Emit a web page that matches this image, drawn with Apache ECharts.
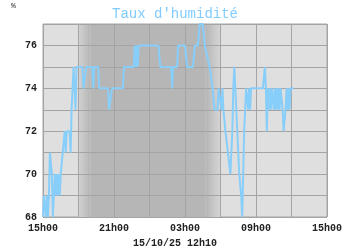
<!DOCTYPE html>
<html><head><meta charset="utf-8">
<script src="https://cdn.jsdelivr.net/npm/echarts@6/dist/echarts.min.js"></script>
<style>html,body{margin:0;padding:0;background:#fff}#c{width:350px;height:250px}</style>
</head><body><div id="c"></div>
<script>
const titleText = "Taux d'humidité";
const unitText = "%";
const footerText = "15/10/25 12h10";
const xTickLabels = ['15h00', '21h00', '03h00', '09h00', '15h00'];
const yTickLabels = ['68', '70', '72', '74', '76'];
const times = [
'15:00','15:05','15:10','15:15','15:20','15:25','15:30','15:35','15:40','15:45','15:50','15:55',
'16:00','16:05','16:10','16:15','16:20','16:25','16:30','16:35','16:40','16:45','16:50','16:55',
'17:00','17:05','17:10','17:15','17:20','17:25','17:30','17:35','17:40','17:45','17:50','17:55',
'18:20','18:25','18:35','18:40','19:10','19:15','19:20','19:40','19:45','20:30','20:35','20:45','20:50',
'21:45','21:50','22:40','22:45','22:50','22:55','23:00','23:05','00:45','00:55','01:50','01:55','02:00',
'02:20','02:25','03:00','03:10','03:40','03:50','04:05','04:15','04:30','04:40','04:50','05:05',
'05:20','05:30','05:40','05:45','05:50','05:55','06:05','06:10','06:15','06:25','06:50','07:00',
'07:05','07:10','07:15','07:20','07:30','07:35','07:40','07:45','07:50','07:55','08:00','08:05',
'08:10','08:20','08:25','08:30','08:35','08:40','09:35','09:40','09:45','09:50','09:55','10:00',
'10:05','10:10','10:15','10:20','10:25','10:30','10:35','10:40','10:45','10:50','10:55','11:00',
'11:05','11:10','11:15','11:20','11:25','11:30','11:35','11:40','11:45','11:50','11:55','12:00','12:10'
];
const humidity = [
68,69,69,68,69,68,69,71,71,70,68,68,
70,69,70,69,70,69,70,70,71,71,72,71,
72,72,72,72,71,73,73,75,75,73,75,75,
75,74,74,75,75,74,75,75,74,74,73,73,74,
74,75,75,76,75,76,75,76,76,75,75,74,75,
75,76,76,75,75,76,76,77,77,76,76,75,
74,73,73,73,74,74,73,74,73,72,70,72,
74,75,74,73,71,70,70,69,68,70,72,73,
74,73,74,73,74,74,74,74,75,74,72,74,
73,74,73,74,74,73,74,73,74,73,74,73,
74,74,73,72,72,73,74,73,74,73,74,74,74
];
const nightFadeIn = ['18:00', '19:00'];
const nightFadeOut = ['04:45', '06:00'];

function toMinutes(t) {
  const p = t.split(':').map(Number);
  return ((p[0] * 60 + p[1]) - 900 + 1440) % 1440;
}
const seriesData = times.map((t, i) => [toMinutes(t), humidity[i]]);

const light = '#dfdfdf', dark = '#b6b6b6';
const font = '"Liberation Mono", "Courier New", monospace';

const chart = echarts.init(document.getElementById('c'), null, {renderer: 'canvas'});
chart.setOption({
  animation: false,
  backgroundColor: '#ffffff',
  title: {
    text: titleText, left: 'center', top: 2,
    textStyle: {fontFamily: font, fontSize: 14, fontWeight: 'normal', color: '#80ccff'}
  },
  graphic: [
    {type: 'text', left: 11, top: 2, style: {text: unitText, font: '8px ' + font, fill: '#333'}},
    {type: 'text', left: 'center', top: 238, style: {text: footerText, font: 'bold 10px ' + font, fill: '#222'}}
  ],
  grid: {
    left: 43, right: 23, top: 24, bottom: 33, show: true,
    backgroundColor: light, borderColor: '#a4a4a4', borderWidth: 1
  },
  xAxis: {
    type: 'value', min: 0, max: 1440, interval: 180, z: 2,
    axisLine: {show: false}, axisTick: {show: false},
    splitLine: {show: true, lineStyle: {color: '#a4a4a4', width: 1}},
    axisLabel: {
      margin: 6, fontFamily: font, fontSize: 10, fontWeight: 'bold', color: '#222',
      showMinLabel: true, showMaxLabel: true,
      formatter: v => (v % 360 === 0 ? xTickLabels[v / 360] : '')
    }
  },
  yAxis: {
    type: 'value', min: 68, max: 77, interval: 1, z: 2,
    axisLine: {show: false}, axisTick: {show: false},
    splitLine: {show: true, lineStyle: {color: '#a4a4a4', width: 1}},
    axisLabel: {
      margin: 6, fontFamily: font, fontSize: 10, fontWeight: 'bold', color: '#222',
      formatter: v => (v % 2 === 0 ? yTickLabels[(v - 68) / 2] : '')
    }
  },
  series: [
    {
      type: 'line', data: seriesData, z: 1, silent: true, showSymbol: false,
      lineStyle: {opacity: 0, width: 0},
      markArea: {
        silent: true,
        data: [
          [{xAxis: toMinutes(nightFadeIn[0]), itemStyle: {color: {type: 'linear', x: 0, y: 0, x2: 1, y2: 0,
              colorStops: [{offset: 0, color: '#d2d2d2'}, {offset: 1, color: dark}]}}},
           {xAxis: toMinutes(nightFadeIn[1])}],
          [{xAxis: toMinutes(nightFadeIn[1]), itemStyle: {color: dark}}, {xAxis: toMinutes(nightFadeOut[0])}],
          [{xAxis: toMinutes(nightFadeOut[0]), itemStyle: {color: {type: 'linear', x: 0, y: 0, x2: 1, y2: 0,
              colorStops: [{offset: 0, color: dark}, {offset: 1, color: '#d6d6d6'}]}}},
           {xAxis: toMinutes(nightFadeOut[1])}]
        ]
      }
    },
    {
      type: 'line', data: seriesData, z: 3, showSymbol: false, silent: true,
      lineStyle: {color: '#87cefa', width: 2}
    }
  ]
});
</script>
</body></html>
